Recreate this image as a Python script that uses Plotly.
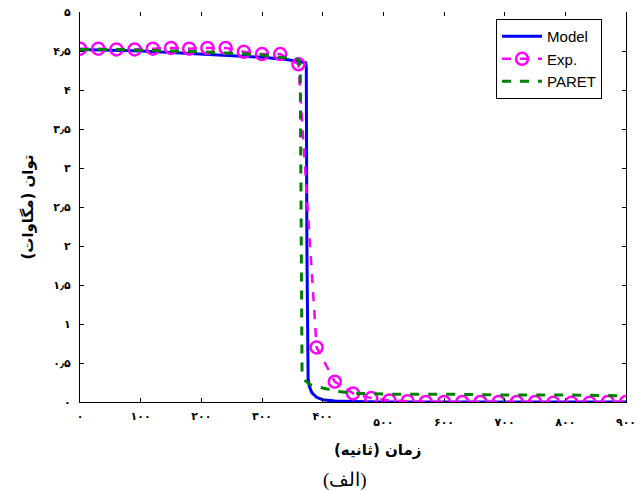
import plotly.graph_objects as go

# ---- data ----
model_t = [0, 50, 100, 150, 200, 250, 300, 340, 365, 372, 373, 374, 376, 378, 382, 390, 400, 420, 450, 500, 600, 700, 800, 900]
model_p = [4.52, 4.51, 4.50, 4.48, 4.46, 4.44, 4.42, 4.39, 4.36, 4.35, 4.30, 2.00, 0.30, 0.20, 0.12, 0.06, 0.03, 0.012, 0.005, 0.0, 0.0, 0.0, 0.0, 0.0]

exp_t = list(range(0, 901, 30))
exp_p = [4.53, 4.53, 4.52, 4.52, 4.53, 4.54, 4.53, 4.54, 4.54, 4.49, 4.46, 4.46, 4.33,
         0.70, 0.26, 0.11, 0.05, 0.02, 0.01, 0.0, 0.0, 0.0, 0.0, 0.0, 0.0, 0.0, -0.01,
         -0.01, -0.01, 0.0, 0.0]

paret_t = [0, 50, 100, 150, 200, 250, 300, 340, 360, 363, 364, 366, 368, 372, 380, 400, 430, 460, 510, 600, 700, 800, 900]
paret_p = [4.52, 4.52, 4.51, 4.50, 4.49, 4.47, 4.45, 4.41, 4.39, 4.30, 2.50, 0.40, 0.32, 0.27, 0.22, 0.18, 0.13, 0.11, 0.10, 0.10, 0.09, 0.09, 0.08]

x_ticks = [0, 100, 200, 300, 400, 500, 600, 700, 800, 900]
x_labels_a = ["۰", "۱۰۰", "۲۰۰", "۳۰۰", "۴۰۰", "", "", "", "", ""]
x_labels_b = ["", "", "", "", "", "۵۰۰", "۶۰۰", "۷۰۰", "۸۰۰", "۹۰۰"]
y_ticks = [0, 0.5, 1, 1.5, 2, 2.5, 3, 3.5, 4, 4.5, 5]
y_labels = ["۰", "۰٫۵", "۱", "۱٫۵", "۲", "۲٫۵", "۳", "۳٫۵", "۴", "۴٫۵", "۵"]

x_title = "زمان (ثانیه)"
y_title = "توان (مگاوات)"
caption = "(الف)"

def bold(lst):
    return ["<b>" + s + "</b>" if s else "" for s in lst]

fig = go.Figure()
fig.add_trace(go.Scatter(x=model_t, y=model_p, mode="lines", name="Model",
                         line=dict(color="#0000FF", width=3)))
fig.add_trace(go.Scatter(x=exp_t, y=exp_p, mode="lines+markers", name="Exp.",
                         line=dict(color="#FF00FF", width=2.5, dash="dash"),
                         marker=dict(symbol="circle-open", size=12, color="#FF00FF",
                                     line=dict(width=2.5, color="#FF00FF"))))
fig.add_trace(go.Scatter(x=paret_t, y=paret_p, mode="lines", name="PARET",
                         line=dict(color="#008000", width=3, dash="dash")))
# empty helper traces so the overlay axes (top ticks, second label row) are drawn
fig.add_trace(go.Scatter(x=[], y=[], xaxis="x2", showlegend=False, hoverinfo="skip"))
fig.add_trace(go.Scatter(x=[], y=[], xaxis="x3", showlegend=False, hoverinfo="skip"))

tickfont = dict(family="DejaVu Sans", size=11, color="black")

fig.update_layout(
    width=637, height=491,
    margin=dict(l=80, r=11, t=12, b=89, autoexpand=False),
    paper_bgcolor="white", plot_bgcolor="white",
    showlegend=True,
    legend=dict(x=0.762, y=0.982, xanchor="left", yanchor="top",
                bgcolor="white", bordercolor="black", borderwidth=1,
                font=dict(family="Liberation Sans, Arial", size=15, color="black"),
                tracegroupgap=0, itemwidth=40),
    xaxis=dict(range=[0, 900], tickvals=x_ticks, ticktext=bold(x_labels_a),
               ticks="inside", ticklen=4, tickcolor="black", automargin=False,
               showline=True, linecolor="black", linewidth=1, mirror=False,
               showgrid=False, zeroline=False, tickfont=tickfont,
               ticklabelstandoff=4, ticklabeloverflow="allow"),
    xaxis2=dict(overlaying="x", matches="x", side="top", tickvals=x_ticks,
                ticks="inside", ticklen=4, tickcolor="black", showline=False,
                automargin=False,
                showticklabels=False, showgrid=False, zeroline=False),
    xaxis3=dict(overlaying="x", matches="x", side="bottom", tickvals=x_ticks,
                ticktext=bold(x_labels_b), ticks="", showline=False, showgrid=False,
                automargin=False, ticklabeloverflow="allow",
                zeroline=False, tickfont=tickfont, ticklabelstandoff=12),
    yaxis=dict(range=[0, 5], tickvals=y_ticks, ticktext=bold(y_labels),
               ticks="inside", ticklen=4, tickcolor="black", automargin=False,
               showline=True, linecolor="black", linewidth=1, mirror="ticks",
               showgrid=False, zeroline=False, tickfont=tickfont,
               ticklabelstandoff=6, ticklabeloverflow="allow",
               title=dict(text="<b>" + y_title + "</b>", standoff=16,
                          font=dict(family="DejaVu Sans", size=15, color="black"))),
    annotations=[
        dict(text="<b>" + x_title + "</b>", xref="paper", yref="paper", x=0.544, y=-0.123,
             xanchor="center", yanchor="middle", showarrow=False,
             font=dict(family="DejaVu Sans", size=15, color="black")),
        dict(text=caption, xref="paper", yref="paper", x=0.486, y=-0.2,
             xanchor="center", yanchor="middle", showarrow=False,
             font=dict(family="Liberation Serif, Times New Roman", size=19, color="black")),
    ],
)

# remove the default page margin so the figure fills the 637x491 window exactly
fig.write_html("out.html", config={"displayModeBar": False},
               post_script="document.body.style.margin='0px';document.body.style.overflow='hidden';")
